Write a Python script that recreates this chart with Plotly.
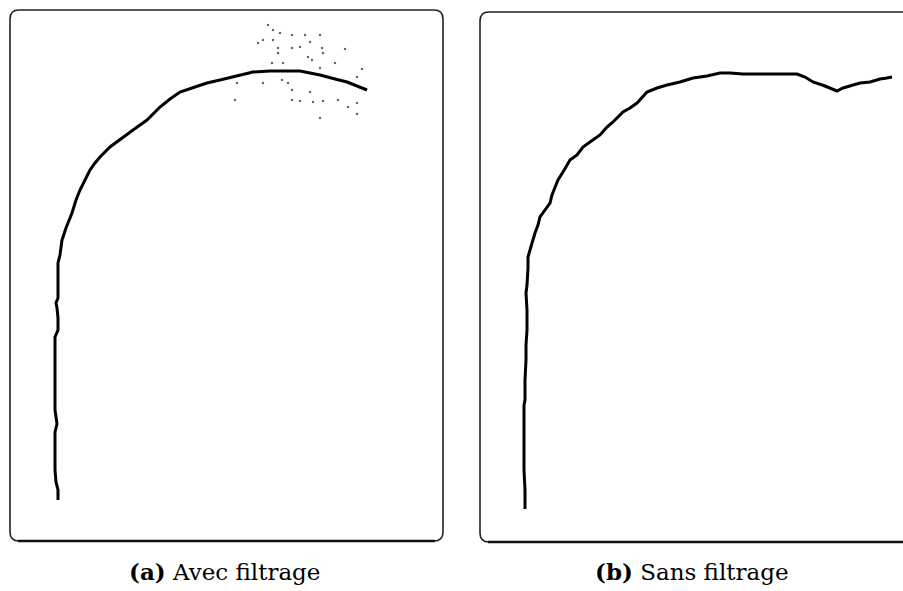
import plotly.graph_objects as go

W, H = 903, 591

# Curve (a): smoothed signal, coordinates in panel units (origin bottom-left of frame)
a_x = [48, 48, 46, 45, 45, 45, 47, 46, 45, 45, 45, 45, 48, 48, 47, 46, 48, 48, 48, 50, 52, 56, 62, 66,
       70, 75, 80, 85, 90, 100, 110, 123, 137, 150, 160, 170, 185, 197, 210, 223, 235, 243, 260, 275,
       290, 300, 310, 325, 337, 347, 357]
a_y = [41, 51, 59, 71, 91, 109, 117, 123, 131, 161, 196, 204, 211, 223, 233, 238, 243, 261, 278, 286,
       301, 313, 328, 341, 351, 361, 371, 378, 384, 394, 401, 411, 421, 434, 442, 449, 454, 458, 461,
       464, 467, 469, 470, 470, 470, 468, 466, 462, 459, 455, 451]

# Curve (b): raw signal
b_x = [45, 45, 44, 44, 44, 44, 45, 45, 46, 46, 47, 47, 46, 47, 48, 48, 50, 52, 55, 58, 60, 65, 70, 72,
       75, 78, 83, 87, 90, 97, 103, 110, 120, 127, 133, 143, 150, 157, 162, 167, 177, 187, 200, 213,
       227, 240, 250, 263, 280, 300, 317, 325, 333, 345, 357, 363, 370, 380, 390, 400, 407, 412]
b_y = [33, 52, 72, 102, 122, 137, 142, 162, 182, 197, 212, 232, 249, 257, 274, 285, 292, 299, 309,
       317, 325, 332, 339, 347, 354, 362, 370, 377, 382, 387, 395, 400, 407, 415, 420, 430, 434, 439,
       445, 450, 454, 457, 460, 464, 466, 469, 469, 468, 468, 468, 468, 465, 460, 456, 451, 454, 456,
       459, 460, 463, 464, 465]

# Scattered residue around the peak of curve (a)
n_x = [258, 263, 270, 295, 310, 282, 253, 263, 300, 248, 268, 282, 290, 312, 335, 268, 298, 313, 262,
       273, 302, 325, 310, 352, 347, 253, 272, 278, 227, 282, 300, 282, 290, 303, 313, 328, 338, 347,
       310, 347, 225]
n_y = [516, 511, 508, 506, 506, 506, 501, 501, 499, 498, 493, 493, 494, 493, 492, 488, 484, 488, 478,
       478, 481, 478, 473, 472, 464, 458, 461, 458, 458, 451, 449, 441, 440, 439, 440, 441, 434, 438,
       423, 427, 441]

captions = ["<b>(a)</b> Avec filtrage", "<b>(b)</b> Sans filtrage"]

# Frames in pixels: left, top, right, bottom
frames = [(10, 10, 443, 541), (480, 12, 913, 542)]

fig = go.Figure()

def px_x(v):
    return v / W

def px_y(v):
    return 1 - v / H

# Axes: each subplot domain is the frame rectangle
for i, (l, t, r, b) in enumerate(frames):
    xa = "xaxis" if i == 0 else "xaxis2"
    ya = "yaxis" if i == 0 else "yaxis2"
    right = min(r, W)
    fig.update_layout({
        xa: dict(domain=[px_x(l), px_x(right)], range=[0, right - l], visible=False, fixedrange=True),
        ya: dict(domain=[px_y(b), px_y(t)], range=[0, b - t], visible=False, fixedrange=True),
    })
fig.layout.xaxis2.anchor = "y2"
fig.layout.yaxis2.anchor = "x2"

fig.add_trace(go.Scatter(x=n_x, y=n_y, mode="markers", xaxis="x", yaxis="y",
                         marker=dict(size=2.2, color="rgba(0,0,0,0.6)", symbol="square"),
                         hoverinfo="skip", showlegend=False))
fig.add_trace(go.Scatter(x=a_x, y=a_y, mode="lines", xaxis="x", yaxis="y",
                         line=dict(color="black", width=3), showlegend=False))
fig.add_trace(go.Scatter(x=b_x, y=b_y, mode="lines", xaxis="x2", yaxis="y2",
                         line=dict(color="black", width=3), showlegend=False))

# Rounded frames drawn in paper coordinates
def rounded(l, t, r, b, rad=9):
    pts = [
        f"M {px_x(l + rad)},{px_y(t)}",
        f"L {px_x(r - rad)},{px_y(t)}",
        f"Q {px_x(r)},{px_y(t)} {px_x(r)},{px_y(t + rad)}",
        f"L {px_x(r)},{px_y(b - rad)}",
        f"Q {px_x(r)},{px_y(b)} {px_x(r - rad)},{px_y(b)}",
        f"L {px_x(l + rad)},{px_y(b)}",
        f"Q {px_x(l)},{px_y(b)} {px_x(l)},{px_y(b - rad)}",
        f"L {px_x(l)},{px_y(t + rad)}",
        f"Q {px_x(l)},{px_y(t)} {px_x(l + rad)},{px_y(t)} Z",
    ]
    return " ".join(pts)

shapes = []
for (l, t, r, b) in frames:
    shapes.append(dict(type="path", xref="paper", yref="paper", path=rounded(l, t, r, b),
                       line=dict(color="#222", width=1.6), fillcolor="rgba(0,0,0,0)"))
    # heavier bottom rule
    shapes.append(dict(type="line", xref="paper", yref="paper",
                       x0=px_x(l + 8), x1=px_x(r - 8), y0=px_y(b), y1=px_y(b),
                       line=dict(color="#111", width=2.4)))
fig.update_layout(shapes=shapes)

for cap, cx in zip(captions, [224, 692]):
    fig.add_annotation(text=cap, xref="paper", yref="paper", x=px_x(cx), y=px_y(571),
                       showarrow=False, xanchor="center", yanchor="middle",
                       font=dict(family="DejaVu Serif", size=23, color="black"))

fig.update_layout(width=W, height=H, autosize=False, margin=dict(l=0, r=0, t=0, b=0),
                  paper_bgcolor="white", plot_bgcolor="white", showlegend=False)

fig.write_html("out.html")
